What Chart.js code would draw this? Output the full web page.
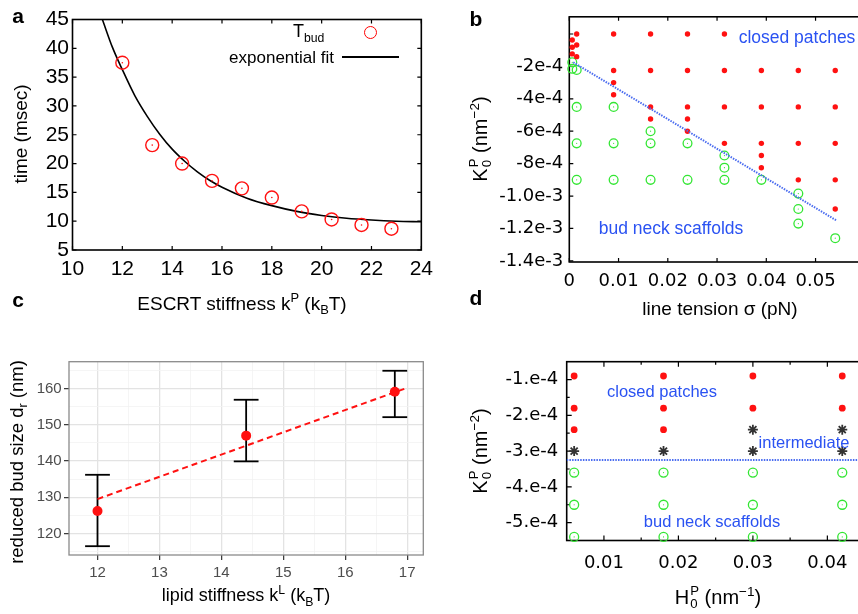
<!DOCTYPE html>
<html>
<head>
<meta charset="utf-8">
<script src="https://cdn.jsdelivr.net/npm/chart.js@4.4.0/dist/chart.umd.min.js"></script>
<style>
  html, body { margin: 0; padding: 0; background: #fff; }
  body { width: 858px; height: 614px; overflow: hidden; position: relative; font-family: "Liberation Sans", Arial, sans-serif; color: #000; }
  .panel { position: absolute; }
  .txt { position: absolute; white-space: nowrap; transform: translate(-50%, -50%); line-height: 1; }
  .rot { transform: translate(-50%, -50%) rotate(-90deg); }
  .letter { position: absolute; font-weight: bold; font-size: 21px; line-height: 1; transform: translate(-50%, -50%); }
  .note { color: #2a52f2; }
  sub, sup { font-size: 0.68em; line-height: 0; }
  .st { display: inline-block; vertical-align: -0.3em; font-size: 0.66em; line-height: 0.95; margin-left: 1px; }
  .st span { display: block; }
  .key { position: absolute; box-sizing: border-box; }
</style>
</head>
<body>

<div class="panel" style="left:0;top:0;width:440px;height:290px"><canvas id="chartA"></canvas></div>
<div class="panel" style="left:430px;top:0;width:470px;height:300px"><canvas id="chartB"></canvas></div>
<div class="panel" style="left:0;top:290px;width:440px;height:324px"><canvas id="chartC"></canvas></div>
<div class="panel" style="left:430px;top:290px;width:470px;height:324px"><canvas id="chartD"></canvas></div>

<!-- panel letters -->
<div class="letter" style="left:18px;top:15px">a</div>
<div class="letter" style="left:476px;top:18px">b</div>
<div class="letter" style="left:18px;top:299px">c</div>
<div class="letter" style="left:476px;top:297px">d</div>

<!-- panel a texts -->
<div class="txt" style="left:242px;top:303px;font-size:19px">ESCRT stiffness k<sup>P</sup> (k<sub>B</sub>T)</div>
<div class="txt rot" style="left:20px;top:134px;font-size:19px">time (msec)</div>
<div class="txt" style="left:293px;top:31px;font-size:18px;transform:translate(0,-50%)">T<sub>bud</sub></div>
<div class="txt" style="left:334px;top:57px;font-size:17px;transform:translate(-100%,-50%)">exponential fit</div>
<div class="key" style="left:363.5px;top:25.8px;width:13px;height:13px;border:1.4px solid #ff0000;border-radius:50%"></div>
<div class="key" style="left:341.7px;top:56.2px;width:57.6px;height:1.6px;background:#000"></div>

<!-- panel b texts -->
<div class="txt" style="left:720px;top:308px;font-size:19px">line tension σ (pN)</div>
<div class="txt rot" style="left:481px;top:139px;font-size:20px">K<span class="st"><span>P</span><span>0</span></span> (nm<sup>−2</sup>)</div>
<div class="txt note" style="left:797px;top:38px;font-size:17.5px">closed patches</div>
<div class="txt note" style="left:671px;top:229px;font-size:17.5px">bud neck scaffolds</div>

<!-- panel c texts -->
<div class="txt" style="left:246px;top:595px;font-size:18px">lipid stiffness k<sup>L</sup> (k<sub>B</sub>T)</div>
<div class="txt rot" style="left:17px;top:462px;font-size:18.5px">reduced bud size d<sub>r</sub> (nm)</div>

<!-- panel d texts -->
<div class="txt" style="left:718px;top:598px;font-size:20px">H<span class="st"><span>P</span><span>0</span></span> (nm<sup>−1</sup>)</div>
<div class="txt rot" style="left:481px;top:451px;font-size:20px">K<span class="st"><span>P</span><span>0</span></span> (nm<sup>−2</sup>)</div>
<div class="txt note" style="left:662px;top:391px;font-size:16.5px">closed patches</div>
<div class="txt note" style="left:804px;top:442px;font-size:16.5px">intermediate</div>
<div class="txt note" style="left:712px;top:521px;font-size:16.5px">bud neck scaffolds</div>

<script>
// ---- panel a : budding time vs ESCRT stiffness ----
const aStiffness = [12.0, 13.2, 14.4, 15.6, 16.8, 18.0, 19.2, 20.4, 21.6, 22.8];
const aTbud = [37.5, 23.2, 20.0, 17.0, 15.7, 14.1, 11.7, 10.3, 9.35, 8.7];
const aFitStiffness = [11.2, 11.6, 12, 12.5, 13, 13.5, 14, 14.5, 15, 15.5, 16, 17, 18, 19, 20, 21, 22, 23, 24];
const aFitTime = [45, 40.2, 36.3, 31.8, 28.2, 25.1, 22.5, 20.4, 18.6, 17.1, 15.9, 14.0, 12.7, 11.7, 11.0, 10.5, 10.2, 10.0, 9.9];
const aXTicks = [10, 12, 14, 16, 18, 20, 22, 24];
const aYTicks = [5, 10, 15, 20, 25, 30, 35, 40, 45];

// ---- panel b : phase diagram, line tension vs K0 ----
const bRedTension = [0.0015, 0.009, 0.0165, 0.024, 0.0315,
  0.0006, 0.0015, 0.0006, 0.0006, 0.0015,
  0.009, 0.0165, 0.024, 0.0315, 0.039, 0.0465, 0.054,
  0.009, 0.009,
  0.0165, 0.024, 0.0315, 0.039, 0.0465, 0.054,
  0.0165, 0.024, 0.024,
  0.0315, 0.039, 0.0465, 0.054,
  0.039, 0.039,
  0.0465, 0.054,
  0.054];
const bRedK = [0, 0, 0, 0, 0,
  -0.37e-4, -0.68e-4, -0.82e-4, -1.23e-4, -1.4e-4,
  -2.25e-4, -2.25e-4, -2.25e-4, -2.25e-4, -2.25e-4, -2.25e-4, -2.25e-4,
  -3.0e-4, -3.75e-4,
  -4.5e-4, -4.5e-4, -4.5e-4, -4.5e-4, -4.5e-4, -4.5e-4,
  -5.25e-4, -5.25e-4, -6.0e-4,
  -6.75e-4, -6.75e-4, -6.75e-4, -6.75e-4,
  -7.5e-4, -8.25e-4,
  -9.0e-4, -9.0e-4,
  -10.8e-4];
const bGreenTension = [0.0006, 0.0006, 0.0015,
  0.0015, 0.009,
  0.0165,
  0.0015, 0.009, 0.0165, 0.024,
  0.0315, 0.0315,
  0.0015, 0.009, 0.0165, 0.024, 0.0315, 0.039,
  0.0465, 0.0465, 0.0465,
  0.054];
const bGreenK = [-1.75e-4, -2.15e-4, -2.22e-4,
  -4.5e-4, -4.5e-4,
  -6.0e-4,
  -6.75e-4, -6.75e-4, -6.75e-4, -6.75e-4,
  -7.5e-4, -8.25e-4,
  -9.0e-4, -9.0e-4, -9.0e-4, -9.0e-4, -9.0e-4, -9.0e-4,
  -9.85e-4, -10.8e-4, -11.7e-4,
  -12.6e-4];
const bBoundaryTension = [0.0008, 0.0542];
const bBoundaryK = [-1.75e-4, -11.5e-4];
const bXTicks = [0, 0.01, 0.02, 0.03, 0.04, 0.05, 0.06];
const bXLabels = ['0', '0.01', '0.02', '0.03', '0.04', '0.05', ''];
const bYTicks = [-1.4e-3, -1.2e-3, -1.0e-3, -8e-4, -6e-4, -4e-4, -2e-4, 0];
const bYLabels = ['-1.4e-3', '-1.2e-3', '-1.0e-3', '-8e-4', '-6e-4', '-4e-4', '-2e-4', ''];

// ---- panel c : bud size vs lipid stiffness ----
const cLipidStiffness = [12, 14.4, 16.8];
const cBudSize = [126.2, 147.0, 159.1];
const cErrLow = [116.5, 139.9, 152.1];
const cErrHigh = [136.2, 156.9, 164.9];
const cFitStiffness = [12, 17];
const cFitSize = [129.5, 160.2];
const cXTicks = [12, 13, 14, 15, 16, 17];
const cXMinor = [12.5, 13.5, 14.5, 15.5, 16.5];
const cYTicks = [120, 130, 140, 150, 160];
const cYMinor = [115, 125, 135, 145, 155, 165];
const cCapHalf = 0.2;

// ---- panel d : phase diagram, H0 vs K0 ----
const dRedH = [0.006, 0.018, 0.030, 0.042, 0.006, 0.018, 0.030, 0.042, 0.006, 0.018];
const dRedK = [-0.9e-4, -0.9e-4, -0.9e-4, -0.9e-4, -1.8e-4, -1.8e-4, -1.8e-4, -1.8e-4, -2.4e-4, -2.4e-4];
const dMidH = [0.030, 0.042, 0.006, 0.018, 0.030, 0.042];
const dMidK = [-2.4e-4, -2.4e-4, -3.0e-4, -3.0e-4, -3.0e-4, -3.0e-4];
const dGreenH = [0.006, 0.018, 0.030, 0.042, 0.006, 0.018, 0.030, 0.042, 0.006, 0.018, 0.030, 0.042];
const dGreenK = [-3.6e-4, -3.6e-4, -3.6e-4, -3.6e-4, -4.5e-4, -4.5e-4, -4.5e-4, -4.5e-4, -5.4e-4, -5.4e-4, -5.4e-4, -5.4e-4];
const dBoundaryH = [0.005, 0.045];
const dBoundaryK = [-3.25e-4, -3.25e-4];
const dXTicks = [0.01, 0.02, 0.03, 0.04];
const dXLabels = ['0.01', '0.02', '0.03', '0.04'];
const dXMinor = [0.015, 0.025, 0.035];
const dYTicks = [-5e-4, -4e-4, -3e-4, -2e-4, -1e-4];
const dYLabels = ['-5.e-4', '-4.e-4', '-3.e-4', '-2.e-4', '-1.e-4'];
const dYMinor = [-4.5e-4, -3.5e-4, -2.5e-4, -1.5e-4];

const HELV = '"Liberation Sans", Arial, sans-serif';
const DEJA = '"DejaVu Sans", sans-serif';
const RED = '#ff1111';
const GREEN = '#33e633';
const BLUE = '#4a6cf0';

function xy(xs, ys) {
  return xs.map(function (x, i) { return { x: x, y: ys[i] }; });
}
function fixedTicks(vals) {
  return function (scale) { scale.ticks = vals.map(function (v) { return { value: v }; }); };
}
function labelFrom(vals, labels) {
  return function (value) {
    var i = vals.findIndex(function (v) { return Math.abs(v - value) < 1e-12; });
    return i < 0 ? '' : labels[i];
  };
}

// box round the plot area
const framePlugin = {
  id: 'frame',
  beforeDatasetsDraw(chart, args, opts) {
    const a = chart.chartArea, ctx = chart.ctx;
    ctx.save();
    ctx.strokeStyle = opts.color || '#000';
    ctx.lineWidth = opts.width || 1;
    ctx.strokeRect(a.left, a.top, a.right - a.left, a.bottom - a.top);
    ctx.restore();
  }
};

// gnuplot style ticks pointing inwards, on all four sides
const innerTicksPlugin = {
  id: 'innerTicks',
  beforeDatasetsDraw(chart, args, opts) {
    if (!opts.major) return;
    const ctx = chart.ctx, a = chart.chartArea, sx = chart.scales.x, sy = chart.scales.y;
    ctx.save();
    ctx.strokeStyle = '#000';
    ctx.lineWidth = 1.2;
    function mark(axis, vals, len) {
      vals.forEach(function (v) {
        ctx.beginPath();
        if (axis === 'x') {
          const p = sx.getPixelForValue(v);
          if (p < a.left - 0.5 || p > a.right + 0.5) return;
          ctx.moveTo(p, a.bottom); ctx.lineTo(p, a.bottom - len);
          ctx.moveTo(p, a.top); ctx.lineTo(p, a.top + len);
        } else {
          const p = sy.getPixelForValue(v);
          if (p < a.top - 0.5 || p > a.bottom + 0.5) return;
          ctx.moveTo(a.left, p); ctx.lineTo(a.left + len, p);
          ctx.moveTo(a.right, p); ctx.lineTo(a.right - len, p);
        }
        ctx.stroke();
      });
    }
    mark('x', sx.ticks.map(function (t) { return t.value; }), opts.major);
    mark('y', sy.ticks.map(function (t) { return t.value; }), opts.major);
    if (opts.minorX) mark('x', opts.minorX, opts.minor);
    if (opts.minorY) mark('y', opts.minorY, opts.minor);
    ctx.restore();
  }
};

const common = {
  responsive: true,
  maintainAspectRatio: false,
  animation: false,
  events: [],
  devicePixelRatio: 1
};

function plainAxis(cfg) {
  return Object.assign({
    type: 'linear',
    grid: { display: false, drawTicks: false },
    border: { display: false }
  }, cfg);
}

// ---------- panel a ----------
new Chart(document.getElementById('chartA'), {
  type: 'scatter',
  plugins: [framePlugin, innerTicksPlugin],
  data: {
    datasets: [
      { data: xy(aStiffness, aTbud), pointStyle: 'circle', pointRadius: 6.5, pointBorderWidth: 1.4,
        pointBorderColor: RED, pointBackgroundColor: 'rgba(0,0,0,0)', clip: false },
      { data: xy(aStiffness, aTbud), pointRadius: 0.8, pointBorderWidth: 0, pointBackgroundColor: RED },
      { data: xy(aFitStiffness, aFitTime), showLine: true, borderColor: '#000', borderWidth: 1.6,
        pointRadius: 0, cubicInterpolationMode: 'monotone' }
    ]
  },
  options: Object.assign({}, common, {
    layout: { padding: { top: 19.5, right: 16.5, left: 0, bottom: 0 } },
    plugins: { legend: { display: false }, tooltip: { enabled: false },
      frame: { color: '#000', width: 1.6 }, innerTicks: { major: 4 } },
    scales: {
      x: plainAxis({ min: 10, max: 24, afterBuildTicks: fixedTicks(aXTicks),
        afterFit: function (s) { s.height = 40; },
        ticks: { color: '#000', font: { family: HELV, size: 21 }, padding: 7, maxRotation: 0, autoSkip: false } }),
      y: plainAxis({ min: 5, max: 45, afterBuildTicks: fixedTicks(aYTicks),
        afterFit: function (s) { s.width = 72.5; },
        ticks: { color: '#000', font: { family: HELV, size: 21 }, padding: 3.5, autoSkip: false } })
    }
  })
});

// ---------- panel b ----------
new Chart(document.getElementById('chartB'), {
  type: 'scatter',
  plugins: [framePlugin, innerTicksPlugin],
  data: {
    datasets: [
      { data: xy(bBoundaryTension, bBoundaryK), showLine: true, borderColor: BLUE, borderWidth: 2,
        borderDash: [1.5, 1.2], pointRadius: 0 },
      { data: xy(bRedTension, bRedK), pointRadius: 2.7, pointBorderWidth: 0, pointBackgroundColor: RED, clip: false },
      { data: xy(bGreenTension, bGreenK), pointRadius: 4.4, pointBorderWidth: 1.3, pointBorderColor: GREEN,
        pointBackgroundColor: 'rgba(0,0,0,0)', clip: false },
      { data: xy(bGreenTension, bGreenK), pointRadius: 0.6, pointBorderWidth: 0, pointBackgroundColor: GREEN, clip: false }
    ]
  },
  options: Object.assign({}, common, {
    layout: { padding: { top: 16, right: 35.2, left: 0, bottom: 0 } },
    plugins: { legend: { display: false }, tooltip: { enabled: false },
      frame: { color: '#000', width: 1.6 }, innerTicks: { major: 4 } },
    scales: {
      x: plainAxis({ min: 0, max: 0.06, afterBuildTicks: fixedTicks(bXTicks),
        afterFit: function (s) { s.height = 38; },
        ticks: { color: '#000', font: { family: DEJA, size: 18 }, padding: 9, maxRotation: 0, autoSkip: false,
          callback: labelFrom(bXTicks, bXLabels) } }),
      y: plainAxis({ min: -1.407e-3, max: 1.06e-4, afterBuildTicks: fixedTicks(bYTicks),
        afterFit: function (s) { s.width = 139.3; },
        ticks: { color: '#000', font: { family: DEJA, size: 18 }, padding: 6, autoSkip: false,
          callback: labelFrom(bYTicks, bYLabels) } })
    }
  })
});

// ---------- panel c ----------
function isMajor(list, v) {
  return list.some(function (m) { return Math.abs(m - v) < 1e-9; });
}
const cErrorSets = [];
cLipidStiffness.forEach(function (x, i) {
  const line = { showLine: true, borderColor: '#000', borderWidth: 1.8, pointRadius: 0, clip: false };
  cErrorSets.push(Object.assign({ data: [{ x: x, y: cErrLow[i] }, { x: x, y: cErrHigh[i] }] }, line));
  cErrorSets.push(Object.assign({ data: [{ x: x - cCapHalf, y: cErrLow[i] }, { x: x + cCapHalf, y: cErrLow[i] }] }, line));
  cErrorSets.push(Object.assign({ data: [{ x: x - cCapHalf, y: cErrHigh[i] }, { x: x + cCapHalf, y: cErrHigh[i] }] }, line));
});
function gridAxis(majors, minors, cfg) {
  const all = majors.concat(minors).sort(function (p, q) { return p - q; });
  return Object.assign({
    type: 'linear',
    afterBuildTicks: fixedTicks(all),
    border: { display: false },
    grid: {
      drawTicks: true, tickLength: 5,
      color: function (c) { return isMajor(majors, c.tick.value) ? '#e3e3e3' : '#f2f2f2'; },
      lineWidth: function (c) { return isMajor(majors, c.tick.value) ? 1.3 : 0.8; },
      tickColor: function (c) { return isMajor(majors, c.tick.value) ? '#333' : 'rgba(0,0,0,0)'; },
      tickWidth: 1.2
    },
    ticks: { color: '#4d4d4d', font: { family: HELV, size: 15 }, autoSkip: false, maxRotation: 0,
      callback: function (v) { return isMajor(majors, v) ? String(v) : ''; } }
  }, cfg);
}
const cxAxis = gridAxis(cXTicks, cXMinor, { min: 11.54, max: 17.26, afterFit: function (s) { s.height = 59; } });
cxAxis.ticks.padding = 3.7;
const cyAxis = gridAxis(cYTicks, cYMinor, { min: 114.07, max: 167.4, afterFit: function (s) { s.width = 69; } });
cyAxis.ticks.padding = 2.3;

new Chart(document.getElementById('chartC'), {
  type: 'scatter',
  plugins: [framePlugin],
  data: {
    datasets: [
      { data: xy(cLipidStiffness, cBudSize), pointRadius: 5, pointBorderWidth: 0, pointBackgroundColor: RED, clip: false },
      { data: xy(cFitStiffness, cFitSize), showLine: true, borderColor: RED, borderWidth: 2,
        borderDash: [6, 4], pointRadius: 0 }
    ].concat(cErrorSets)
  },
  options: Object.assign({}, common, {
    layout: { padding: { top: 71.7, right: 16.7, left: 0, bottom: 0 } },
    plugins: { legend: { display: false }, tooltip: { enabled: false },
      frame: { color: '#8a8a8a', width: 1.3 } },
    scales: { x: cxAxis, y: cyAxis }
  })
});

// ---------- panel d ----------
new Chart(document.getElementById('chartD'), {
  type: 'scatter',
  plugins: [framePlugin, innerTicksPlugin],
  data: {
    datasets: [
      { data: xy(dBoundaryH, dBoundaryK), showLine: true, borderColor: BLUE, borderWidth: 2,
        borderDash: [1.5, 1.2], pointRadius: 0 },
      { data: xy(dRedH, dRedK), pointRadius: 3.4, pointBorderWidth: 0, pointBackgroundColor: RED, clip: false },
      { data: xy(dMidH, dMidK), pointStyle: 'star', pointRadius: 5, pointBorderWidth: 1.8,
        pointBorderColor: '#333', clip: false },
      { data: xy(dGreenH, dGreenK), pointRadius: 4.5, pointBorderWidth: 1.3, pointBorderColor: GREEN,
        pointBackgroundColor: 'rgba(0,0,0,0)', clip: false },
      { data: xy(dGreenH, dGreenK), pointRadius: 0.6, pointBorderWidth: 0, pointBackgroundColor: GREEN, clip: false }
    ]
  },
  options: Object.assign({}, common, {
    layout: { padding: { top: 71.7, right: 35.4, left: 0, bottom: 0 } },
    plugins: { legend: { display: false }, tooltip: { enabled: false },
      frame: { color: '#000', width: 1.6 },
      innerTicks: { major: 5, minor: 3, minorX: dXMinor, minorY: dYMinor } },
    scales: {
      x: plainAxis({ min: 0.005, max: 0.045, afterBuildTicks: fixedTicks(dXTicks),
        afterFit: function (s) { s.height = 73.5; },
        ticks: { color: '#000', font: { family: DEJA, size: 18 }, padding: 12, maxRotation: 0, autoSkip: false,
          callback: labelFrom(dXTicks, dXLabels) } }),
      y: plainAxis({ min: -5.5e-4, max: -0.5e-4, afterBuildTicks: fixedTicks(dYTicks),
        afterFit: function (s) { s.width = 136.7; },
        ticks: { color: '#000', font: { family: DEJA, size: 18 }, padding: 8.4, autoSkip: false,
          callback: labelFrom(dYTicks, dYLabels) } })
    }
  })
});
</script>
</body>
</html>
